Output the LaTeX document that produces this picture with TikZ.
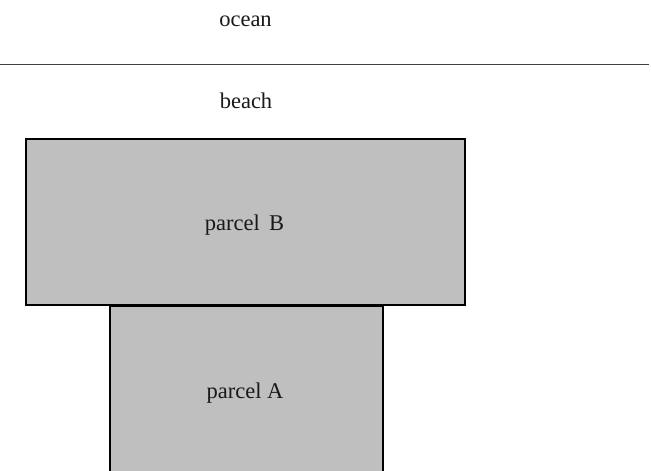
\documentclass[tikz,border=0pt]{standalone}
\usepackage{fontspec}
\setmainfont{Liberation Serif}
\begin{document}
\begin{tikzpicture}[x=1pt,y=-1pt,
  parcel/.style={draw=black,fill=gray!50!white,line width=2.8pt},
  lbl/.style={font=\fontsize{22.5}{27}\selectfont,text=black!90,anchor=base,inner sep=0pt}]
\useasboundingbox[fill=white] (0,0) rectangle (651,471);
\begin{scope}
\clip (0,0) rectangle (651,471);
\draw[parcel] (110,306) rectangle (383,480);
\draw[parcel] (26,139) rectangle (465,305);
\end{scope}
\coordinate (sl) at (0,64);
\coordinate (sr) at (649,64);
\draw[line width=1pt,black!75] (sl) -- (sr);
\node[lbl] (ocean) at (245.5,27) {ocean};
\node[lbl] (beach) at (246,108) {beach};
\node[lbl] (pb) at (244.5,230) {parcel\, B};
\node[lbl] (pa) at (245,398) {parcel A};
\end{tikzpicture}
\end{document}
